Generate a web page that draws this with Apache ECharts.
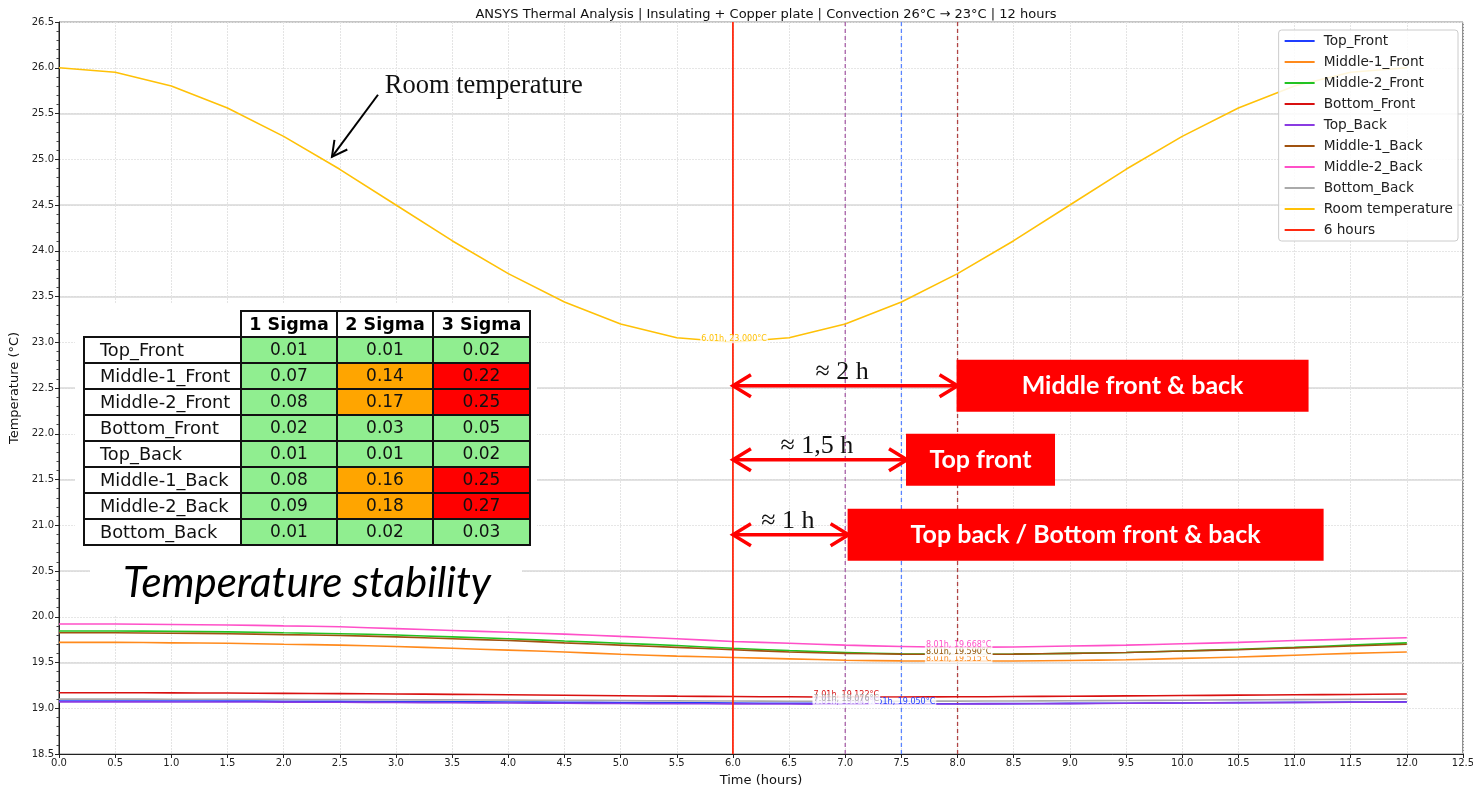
<!DOCTYPE html>
<html>
<head>
<meta charset="utf-8">
<script src="https://cdn.jsdelivr.net/npm/echarts@6/dist/echarts.min.js"></script>
<style>html,body{margin:0;padding:0;background:#fff;}#c{width:1473px;height:788px;}</style>
</head>
<body>
<div id="c"></div>
<script>
// ---------- DATA ----------
const timeHours = [0,0.5,1,1.5,2,2.5,3,3.5,4,4.5,5,5.5,6,6.5,7,7.5,8,8.5,9,9.5,10,10.5,11,11.5,12];
const roomTemp   = [26.00,25.95,25.80,25.56,25.25,24.89,24.50,24.11,23.75,23.44,23.20,23.05,23.00,23.05,23.20,23.44,23.75,24.11,24.50,24.89,25.25,25.56,25.80,25.95,26.00];
const topFront   = [19.080,19.080,19.079,19.078,19.077,19.075,19.073,19.071,19.068,19.066,19.063,19.060,19.057,19.054,19.052,19.050,19.050,19.051,19.053,19.055,19.058,19.061,19.064,19.067,19.070];
const mid1Front  = [19.720,19.720,19.715,19.710,19.700,19.690,19.675,19.655,19.635,19.615,19.590,19.570,19.555,19.540,19.525,19.518,19.515,19.517,19.522,19.530,19.545,19.560,19.580,19.600,19.615];
const mid2Front  = [19.845,19.845,19.840,19.835,19.825,19.815,19.800,19.780,19.760,19.735,19.710,19.685,19.655,19.630,19.610,19.595,19.590,19.592,19.600,19.610,19.625,19.645,19.665,19.690,19.715];
const botFront   = [19.170,19.170,19.168,19.166,19.163,19.160,19.156,19.152,19.147,19.142,19.137,19.132,19.128,19.125,19.122,19.123,19.125,19.128,19.131,19.135,19.139,19.143,19.147,19.151,19.155];
const topBack    = [19.070,19.070,19.069,19.068,19.067,19.065,19.063,19.060,19.058,19.055,19.052,19.050,19.048,19.046,19.045,19.046,19.047,19.049,19.051,19.054,19.057,19.060,19.063,19.066,19.069];
const mid1Back   = [19.825,19.825,19.820,19.815,19.805,19.795,19.780,19.760,19.740,19.715,19.690,19.665,19.640,19.615,19.600,19.592,19.590,19.592,19.600,19.610,19.625,19.640,19.660,19.680,19.700];
const mid2Back   = [19.920,19.920,19.915,19.910,19.900,19.890,19.870,19.850,19.830,19.810,19.785,19.760,19.730,19.710,19.690,19.675,19.668,19.670,19.680,19.690,19.705,19.720,19.740,19.755,19.770];
const botBack    = [19.100,19.100,19.099,19.098,19.097,19.095,19.093,19.091,19.089,19.087,19.084,19.081,19.079,19.077,19.076,19.077,19.078,19.080,19.082,19.085,19.088,19.091,19.094,19.097,19.100];

const seriesNames = ['Top_Front','Middle-1_Front','Middle-2_Front','Bottom_Front','Top_Back','Middle-1_Back','Middle-2_Back','Bottom_Back'];
const seriesValues = [topFront, mid1Front, mid2Front, botFront, topBack, mid1Back, mid2Back, botBack];
// minimum annotations [time, temp]
const minTimes = [7.51, 8.01, 8.01, 7.01, 7.01, 8.01, 8.01, 7.01];
const minTemps = [19.050, 19.515, 19.590, 19.122, 19.045, 19.590, 19.668, 19.076];
const roomMin = [6.01, 23.000];

const sixHours = 6;
const dashedTimes = [7.0, 7.5, 8.0];

const tableRows = ['Top_Front','Middle-1_Front','Middle-2_Front','Bottom_Front','Top_Back','Middle-1_Back','Middle-2_Back','Bottom_Back'];
const sigmaHeaders = ['1 Sigma','2 Sigma','3 Sigma'];
const sigma1 = [0.01,0.07,0.08,0.02,0.01,0.08,0.09,0.01];
const sigma2 = [0.01,0.14,0.17,0.03,0.01,0.16,0.18,0.02];
const sigma3 = [0.02,0.22,0.25,0.05,0.02,0.25,0.27,0.03];

// annotations: arrows from 6 h to t_end at temperature level
const arrowEnds = [8.0, 7.55, 7.03];
const arrowLevels = [22.525, 21.716, 20.896];
const arrowTexts = ['≈ 2 h', '≈ 1,5 h', '≈ 1 h'];
const boxTexts = ['Middle front & back', 'Top front', 'Top back / Bottom front & back'];

// ---------- STYLE ----------
const colors = ['#1f3dff','#ff8a1c','#22c322','#d81010','#8a3be2','#a0520f','#ff50c8','#aaaaaa'];
const roomColor = '#ffc107';
const sixColor = '#ff2a10';
const dashColors = ['#a85fa8','#5a84ff','#b04444'];
const boxWidths = [352, 149, 476];

const chart = echarts.init(document.getElementById('c'));
const FONT = 'DejaVu Sans';

const series = [];
seriesNames.forEach((n, i) => {
  series.push({
    name: n, type: 'line', smooth: 0.3, symbol: 'none',
    data: timeHours.map((t, k) => [t, seriesValues[i][k]]),
    lineStyle: { width: 1.6, color: colors[i] }, itemStyle: { color: colors[i] },
    z: 3,
    markPoint: {
      symbol: 'circle', symbolSize: 0,
      label: {
        show: true, position: 'inside', offset: [0, -2],
        formatter: minTimes[i].toFixed(2) + 'h, ' + minTemps[i].toFixed(3) + '°C',
        color: colors[i], fontSize: 8, fontFamily: FONT,
        backgroundColor: 'rgba(255,255,255,0.75)', padding: [0, 1]
      },
      data: [{ coord: [minTimes[i], minTemps[i]] }]
    }
  });
});
series.push({
  name: 'Room temperature', type: 'line', symbol: 'none',
  data: timeHours.map((t, k) => [t, roomTemp[k]]),
  lineStyle: { width: 1.6, color: roomColor }, itemStyle: { color: roomColor }, z: 3,
  markPoint: {
    symbol: 'circle', symbolSize: 0,
    label: {
      show: true, position: 'inside', offset: [0, -3],
      formatter: roomMin[0].toFixed(2) + 'h, ' + roomMin[1].toFixed(3) + '°C',
      color: roomColor, fontSize: 8, fontFamily: FONT,
      backgroundColor: 'rgba(255,255,255,0.8)', padding: [0, 1]
    },
    data: [{ coord: roomMin }]
  }
});
series.push({
  name: '6 hours', type: 'line', symbol: 'none',
  data: [[sixHours, 18.5], [sixHours, 26.5]],
  lineStyle: { width: 1.8, color: sixColor }, itemStyle: { color: sixColor }, z: 4
});
dashedTimes.forEach((t, i) => {
  series.push({
    name: 'dash' + i, type: 'line', symbol: 'none',
    data: [[t, 18.5], [t, 26.5]],
    lineStyle: { width: 1.3, color: dashColors[i], type: [4, 3] }, z: 2, silent: true
  });
});

const option = {
  animation: false,
  backgroundColor: '#fff',
  title: {
    text: 'ANSYS Thermal Analysis | Insulating + Copper plate | Convection 26°C → 23°C | 12 hours',
    left: 761, top: 3, textAlign: 'center',
    textStyle: { fontFamily: FONT, fontSize: 13, fontWeight: 'normal', color: '#111' }
  },
  grid: { left: 59, right: 10, top: 22, bottom: 34, show: true, borderColor: '#222', borderWidth: 1, backgroundColor: 'transparent', outerBoundsMode: 'none', containLabel: false },
  legend: {
    data: seriesNames.concat(['Room temperature', '6 hours']),
    orient: 'vertical', right: 15, top: 30,
    icon: 'rect', itemWidth: 30, itemHeight: 2, itemGap: 7,
    padding: [4, 5, 4, 6],
    backgroundColor: 'rgba(255,255,255,0.85)', borderColor: '#cccccc', borderWidth: 1, borderRadius: 3,
    textStyle: { fontFamily: FONT, fontSize: 13.7, color: '#222', lineHeight: 14, padding: [0, 0, 0, 4] }
  },
  xAxis: {
    type: 'value', min: 0, max: 12.5, interval: 0.5,
    name: 'Time (hours)', nameLocation: 'middle', nameGap: 20,
    nameTextStyle: { fontFamily: FONT, fontSize: 13, color: '#111' },
    axisLine: { lineStyle: { color: '#222' } },
    axisTick: { length: 4, lineStyle: { color: '#222' } },
    axisLabel: { fontFamily: FONT, fontSize: 10, color: '#222', margin: 4, formatter: v => v.toFixed(1) },
    splitLine: { show: true, lineStyle: { color: '#e4e4e4', width: 1, type: [2, 1] } }
  },
  yAxis: [{
    type: 'value', min: 18.5, max: 26.5, interval: 0.5,
    name: 'Temperature (°C)', nameLocation: 'middle', nameGap: 34,
    nameTextStyle: { fontFamily: FONT, fontSize: 13, color: '#111' },
    axisLine: { show: true, lineStyle: { color: '#222' } },
    axisTick: { show: true, length: 4, lineStyle: { color: '#222' } },
    minorTick: { show: true, splitNumber: 5, length: 2.5, lineStyle: { color: '#444' } },
    axisLabel: { fontFamily: FONT, fontSize: 10, color: '#222', margin: 5, formatter: v => v.toFixed(1) },
    splitLine: { show: true, lineStyle: { color: '#e6e6e6', width: 1, type: [2, 1] } }
  }, {
    type: 'value', min: 18.5, max: 26.5, interval: 1, position: 'left',
    axisLine: { show: false }, axisTick: { show: false }, axisLabel: { show: false },
    splitLine: { show: true, lineStyle: { color: '#d9d9d9', width: 1.5 } }
  }],
  series: series
};
chart.setOption(option);

// ---------- GRAPHIC ANNOTATIONS ----------
function px(x, y) { return chart.convertToPixel({ gridIndex: 0 }, [x, y]); }
const g = [];
// white backing for table & caption
g.push({ type: 'rect', shape: { x: 75, y: 303, width: 462, height: 252 }, style: { fill: '#fff' }, z: 1 });
g.push({ type: 'rect', shape: { x: 90, y: 555, width: 432, height: 61 }, style: { fill: '#fff' }, z: 1 });

// table
const tX = [84, 241, 337, 433, 530];
const tY0 = 311, hH = 26, rH = 26;
function cellColor(v) { return v < 0.1 ? '#90ee90' : (v < 0.2 ? '#ffa500' : '#ff0000'); }
const border = { stroke: '#111', lineWidth: 2 };
sigmaHeaders.forEach((h, j) => {
  g.push({ type: 'rect', shape: { x: tX[j + 1], y: tY0, width: tX[j + 2] - tX[j + 1], height: hH }, style: Object.assign({ fill: '#fff' }, border), z: 20 });
  g.push({ type: 'text', x: (tX[j + 1] + tX[j + 2]) / 2, y: tY0 + hH / 2 + 1, style: { text: h, fontFamily: FONT, fontWeight: 'bold', fontSize: 17.5, fill: '#000', textAlign: 'center', textVerticalAlign: 'middle' }, z: 21 });
});
const sig = [sigma1, sigma2, sigma3];
tableRows.forEach((r, i) => {
  const y = tY0 + hH + i * rH;
  g.push({ type: 'rect', shape: { x: tX[0], y: y, width: tX[1] - tX[0], height: rH }, style: Object.assign({ fill: '#fff' }, border), z: 20 });
  g.push({ type: 'text', x: tX[0] + 16, y: y + rH / 2 + 1, style: { text: r, fontFamily: FONT, fontSize: 17.8, fill: '#111', textAlign: 'left', textVerticalAlign: 'middle' }, z: 21 });
  sig.forEach((arr, j) => {
    g.push({ type: 'rect', shape: { x: tX[j + 1], y: y, width: tX[j + 2] - tX[j + 1], height: rH }, style: Object.assign({ fill: cellColor(arr[i]) }, border), z: 20 });
    g.push({ type: 'text', x: (tX[j + 1] + tX[j + 2]) / 2, y: y + rH / 2 + 1, style: { text: arr[i].toFixed(2), fontFamily: FONT, fontSize: 17, fill: '#111', textAlign: 'center', textVerticalAlign: 'middle' }, z: 21 });
  });
});
g.push({ type: 'text', x: 307, y: 583, style: { text: 'Temperature stability', fontFamily: 'Lato', fontStyle: 'italic', fontSize: 42, fill: '#000', textAlign: 'center', textVerticalAlign: 'middle' }, z: 21 });

// chevron helper
function chevron(P, dx, dy, L, W, color, lw) {
  const nx = -dy, ny = dx;
  return { type: 'polyline', shape: { points: [[P[0] - dx * L + nx * W, P[1] - dy * L + ny * W], P, [P[0] - dx * L - nx * W, P[1] - dy * L - ny * W]] }, style: { stroke: color, lineWidth: lw, fill: null }, z: 30 };
}
// double arrows + boxes
arrowEnds.forEach((te, i) => {
  const a = px(sixHours, arrowLevels[i]);
  const b = px(te, arrowLevels[i]);
  g.push({ type: 'line', shape: { x1: a[0], y1: a[1], x2: b[0], y2: b[1] }, style: { stroke: '#ff0000', lineWidth: 3.5 }, z: 30 });
  g.push(chevron(a, -1, 0, 18, 11, '#ff0000', 3.5));
  g.push(chevron(b, 1, 0, 18, 11, '#ff0000', 3.5));
  g.push({ type: 'text', x: (a[0] + b[0]) / 2 - 3, y: a[1] - 14, style: { text: arrowTexts[i], fontFamily: 'Liberation Serif', fontSize: 26, fill: '#111', textAlign: 'center', textVerticalAlign: 'middle' }, z: 30 });
  g.push({ type: 'rect', shape: { x: b[0] - 1, y: a[1] - 26, width: boxWidths[i], height: 52 }, style: { fill: '#ff0000' }, z: 31 });
  g.push({ type: 'text', x: b[0] - 1 + boxWidths[i] / 2, y: a[1], style: { text: boxTexts[i], fontFamily: 'Lato', fontWeight: 'bold', fontSize: 25, fill: '#fff', textAlign: 'center', textVerticalAlign: 'middle' }, z: 32 });
});
// room temperature annotation
const rtStart = px(2.84, 25.705), rtEnd = px(2.43, 25.027);
let ddx = rtEnd[0] - rtStart[0], ddy = rtEnd[1] - rtStart[1];
const dl = Math.hypot(ddx, ddy); ddx /= dl; ddy /= dl;
g.push({ type: 'line', shape: { x1: rtStart[0], y1: rtStart[1], x2: rtEnd[0], y2: rtEnd[1] }, style: { stroke: '#000', lineWidth: 2 }, z: 30 });
g.push(chevron(rtEnd, ddx, ddy, 15, 8, '#000', 2));
const rtText = px(2.90, 25.80);
g.push({ type: 'text', x: rtText[0], y: rtText[1], style: { text: 'Room temperature', fontFamily: 'Liberation Serif', fontSize: 26.5, fill: '#111', textAlign: 'left', textVerticalAlign: 'middle' }, z: 30 });

chart.setOption({ graphic: { elements: g } });
</script>
</body>
</html>
